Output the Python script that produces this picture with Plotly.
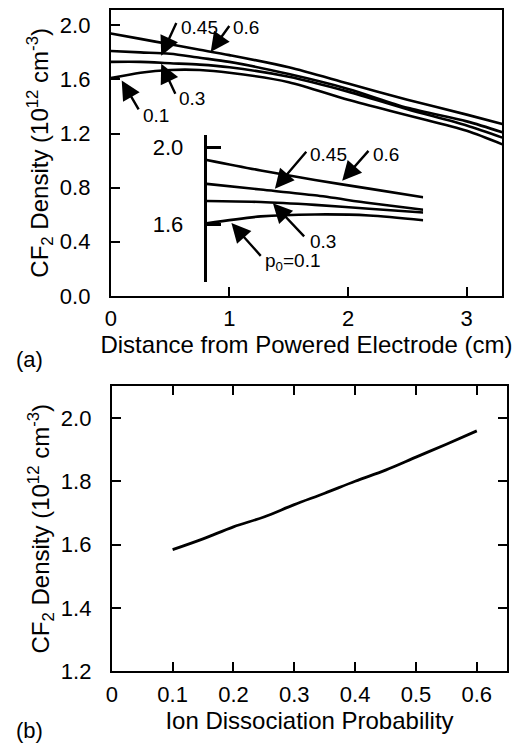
import plotly.graph_objects as go

# ---------------- data: panel (a) main curves ----------------
dist_cm = [0, 0.25, 0.5, 0.75, 1.0, 1.5, 2.0, 2.5, 3.0, 3.3]
dens_p060 = [1.94, 1.90, 1.86, 1.82, 1.78, 1.69, 1.57, 1.45, 1.34, 1.27]
dens_p045 = [1.81, 1.80, 1.79, 1.76, 1.73, 1.64, 1.53, 1.39, 1.29, 1.21]
dens_p030 = [1.73, 1.73, 1.72, 1.71, 1.69, 1.62, 1.51, 1.38, 1.26, 1.17]
dens_p010 = [1.61, 1.65, 1.67, 1.67, 1.65, 1.58, 1.45, 1.335, 1.22, 1.12]

# ---------------- data: panel (a) inset (zoom near electrode) ----------------
inset_dist = [0, 0.3, 0.6, 0.9, 1.2]
inset_p060 = [1.935, 1.88, 1.83, 1.785, 1.74]
inset_p045 = [1.81, 1.78, 1.75, 1.71, 1.675]
inset_p030 = [1.72, 1.715, 1.70, 1.68, 1.66]
inset_p010 = [1.604, 1.64, 1.65, 1.645, 1.62]

# ---------------- data: panel (b) ----------------
ion_prob = [0.10, 0.15, 0.20, 0.25, 0.30, 0.35, 0.40, 0.45, 0.50, 0.55, 0.60]
cf2_dens = [1.584, 1.618, 1.656, 1.687, 1.726, 1.762, 1.800, 1.835, 1.876, 1.917, 1.959]

# tick labels
a_xticks = [0, 1, 2, 3]
a_yticks = [0.0, 0.4, 0.8, 1.2, 1.6, 2.0]
inset_yticks = [1.6, 2.0]
b_xticks = [0, 0.1, 0.2, 0.3, 0.4, 0.5, 0.6]
b_xticktext = ["0", "0.1", "0.2", "0.3", "0.4", "0.5", "0.6"]
b_yticks = [1.2, 1.4, 1.6, 1.8, 2.0]

# label annotations: (text, tip_x, tip_y, tail_x, tail_y, text_x, text_y)
main_labels = [
    ("0.45", 0.425, 1.775, 0.558, 2.029, 0.575, 1.985),
    ("0.6", 0.842, 1.804, 1.008, 2.007, 1.017, 1.985),
    ("0.3", 0.425, 1.716, 0.550, 1.484, 0.558, 1.462),
    ("0.1", 0.092, 1.593, 0.242, 1.367, 0.258, 1.331),
]
inset_labels = [
    ("0.45", 0.378, 1.785, 0.559, 1.985, 0.564, 1.964),
    ("0.6", 0.751, 1.826, 0.904, 1.990, 0.910, 1.964),
    ("0.3", 0.367, 1.708, 0.548, 1.528, 0.559, 1.508),
    ("p<sub>0</sub>=0.1", 0.137, 1.605, 0.307, 1.426, 0.312, 1.400),
]

W, H = 527, 753
FONT = "Liberation Sans, Arial, Helvetica, sans-serif"
line_style = dict(color="black", width=2.6, shape="spline", smoothing=0.8)

fig = go.Figure()
for ys in [dens_p060, dens_p045, dens_p030, dens_p010]:
    fig.add_trace(go.Scatter(x=dist_cm, y=ys, mode="lines", line=line_style,
                             xaxis="x", yaxis="y", showlegend=False, hoverinfo="skip"))
for ys in [inset_p060, inset_p045, inset_p030, inset_p010]:
    fig.add_trace(go.Scatter(x=inset_dist, y=ys, mode="lines", line=line_style,
                             xaxis="x3", yaxis="y3", showlegend=False, hoverinfo="skip"))
fig.add_trace(go.Scatter(x=ion_prob, y=cf2_dens, mode="lines",
                         line=dict(color="black", width=2.8, shape="spline"),
                         xaxis="x2", yaxis="y2", showlegend=False, hoverinfo="skip"))

ax_common = dict(showline=True, linecolor="black", linewidth=2, ticks="inside",
                 ticklen=9, tickwidth=2, tickcolor="black", showgrid=False, zeroline=False,
                 tickfont=dict(family=FONT, size=22, color="black"))
ytitle = "CF<sub>2</sub> Density (10<sup>12</sup> cm<sup>-3</sup>)"
TFONT = dict(family=FONT, size=24, color="black")

fig.update_layout(
    width=W, height=H, margin=dict(l=0, r=0, t=0, b=0),
    paper_bgcolor="white", plot_bgcolor="white",
    font=dict(family=FONT, color="black"),
    xaxis=dict(**ax_common, domain=[106 / W, 502 / W], range=[0, 3.3], mirror=True,
               tickvals=a_xticks, ticklabelstandoff=2,
               title=dict(text="Distance from Powered Electrode (cm)", font=TFONT, standoff=4),
               anchor="y"),
    yaxis=dict(**ax_common, domain=[1 - 301 / H, 1 - 10 / H], range=[0, 2.115], mirror=True,
               tickvals=a_yticks, tickformat=".1f", ticklabelstandoff=14,
               title=dict(text=ytitle, font=TFONT, standoff=4),
               anchor="x"),
    xaxis2=dict(**ax_common, domain=[107 / W, 507 / W], range=[0, 0.65], mirror="ticks",
                tickvals=b_xticks, ticktext=b_xticktext, ticklabelstandoff=2,
                title=dict(text="Ion Dissociation Probability", font=TFONT, standoff=3),
                anchor="y2"),
    yaxis2=dict(**ax_common, domain=[1 - 683 / H, 1 - 393 / H], range=[1.2, 2.1], mirror="ticks",
                tickvals=b_yticks, tickformat=".1f", ticklabelstandoff=14,
                title=dict(text=ytitle, font=TFONT, standoff=4),
                anchor="x2"),
    xaxis3=dict(domain=[203 / W, 422 / W], range=[0, 1.2], visible=False, anchor="y3"),
    yaxis3=dict(domain=[1 - 287 / H, 1 - 137 / H], range=[1.297, 2.067],
                showline=True, linecolor="black", linewidth=3, ticks="inside",
                ticklen=14, tickwidth=3, tickcolor="black", showgrid=False, zeroline=False,
                tickvals=inset_yticks, tickformat=".1f", ticklabelstandoff=16,
                tickfont=dict(family=FONT, size=22, color="black"), anchor="x3"),
)

annots = []
for axes, labels in [(("x", "y"), main_labels), (("x3", "y3"), inset_labels)]:
    xr, yr = axes
    for txt, tx, ty, sx, sy, lx, ly in labels:
        annots.append(dict(x=tx, y=ty, ax=sx, ay=sy, xref=xr, yref=yr, axref=xr, ayref=yr,
                           text="", showarrow=True, arrowhead=2, arrowsize=1.6,
                           arrowwidth=2.4, arrowcolor="black", standoff=0, startstandoff=0))
        annots.append(dict(x=lx, y=ly, xref=xr, yref=yr, text=txt, showarrow=False,
                           xanchor="left", yanchor="middle",
                           font=dict(family=FONT, size=19, color="black")))
annots.append(dict(x=8 / W, y=1 - 366 / H, xref="paper", yref="paper", text="(a)",
                   showarrow=False, xanchor="left", yanchor="middle",
                   font=dict(family=FONT, size=22, color="black")))
annots.append(dict(x=8 / W, y=1 - 743 / H, xref="paper", yref="paper", text="(b)",
                   showarrow=False, xanchor="left", yanchor="middle",
                   font=dict(family=FONT, size=22, color="black")))
fig.update_layout(annotations=annots)

fig.write_html("out.html", config={"displayModeBar": False, "staticPlot": True},
               post_script="document.body.style.margin='0';document.body.style.overflow='hidden';")
